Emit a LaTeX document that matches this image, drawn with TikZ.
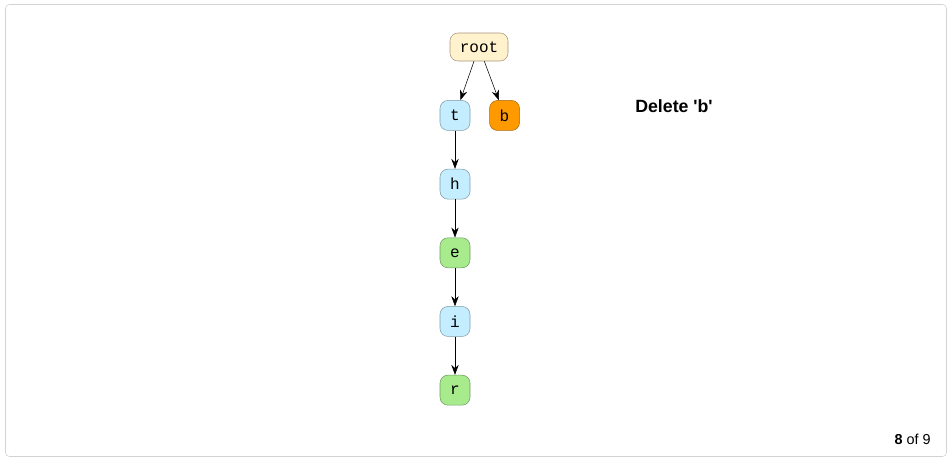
\documentclass[tikz,border=0pt]{standalone}
\usepackage{fontspec}
\setmainfont{Liberation Sans}
\setmonofont{Liberation Mono}
\usepackage{tikz}
\usetikzlibrary{positioning}
\usetikzlibrary{arrows.meta}

\definecolor{rootfill}{HTML}{FFF2CC}
\definecolor{rootline}{HTML}{A6957A}
\definecolor{bluefill}{HTML}{C4EEFF}
\definecolor{blueline}{HTML}{7E9AA6}
\definecolor{greenfill}{HTML}{A7EB8D}
\definecolor{greenline}{HTML}{6F9A62}
\definecolor{orangefill}{HTML}{FF9900}
\definecolor{orangeline}{HTML}{A86A10}
\definecolor{framegray}{HTML}{D3D3D3}

\tikzset{
    trienode/.style={draw, rounded corners=6pt, minimum height=22.5pt, minimum width=22.5pt,
        inner sep=0pt, font=\ttfamily\fontsize{12}{14}\selectfont},
    plainnode/.style={trienode, fill=bluefill, draw=blueline},
    wordnode/.style={trienode, fill=greenfill, draw=greenline},
    gonenode/.style={trienode, fill=orangefill, draw=orangeline},
    link/.style={-{Stealth[length=7.5pt, width=5.5pt]}, thin}
}

\begin{document}
\begin{tikzpicture}[x=0.75pt, y=-0.75pt, node distance=28.6pt]

    \useasboundingbox (0,0) rectangle (952,461);
    \draw[framegray, rounded corners=3pt] (5.5,4.5) rectangle (946.5,456.5);

    % the trie
    \node[trienode, fill=rootfill, draw=rootline, minimum width=43.5pt, minimum height=21pt] (root) at (479,47) {root};
    \node[plainnode, below=29.2pt of root, xshift=-18pt] (t) {t};
    \node[gonenode, right=14.25pt of t] (b) {b};
    \node[plainnode, below=of t] (h) {h};
    \node[wordnode, below=of h] (e) {e};
    \node[plainnode, below=of e] (i) {i};
    \node[wordnode, below=of i] (r) {r};

    \draw[link] (root) -- (t);
    \draw[link] (root) -- (b);
    \draw[link] (t) -- (h);
    \draw[link] (h) -- (e);
    \draw[link] (e) -- (i);
    \draw[link] (i) -- (r);

    % caption and counter
    \node[font=\bfseries\fontsize{13.3}{16}\selectfont] (step) at (674,106) {Delete \textquotesingle b\textquotesingle};
    \node[anchor=east, inner sep=0pt, font=\fontsize{10.8}{13}\selectfont] (count) at (931,439) {\textbf{8} of 9};

\end{tikzpicture}
\end{document}
